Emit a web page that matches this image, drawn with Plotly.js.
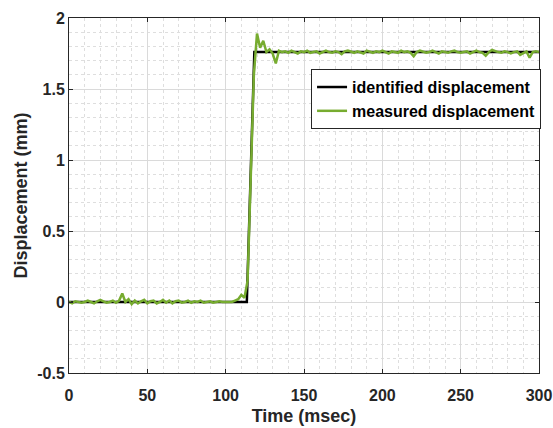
<!DOCTYPE html>
<html>
<head>
<meta charset="utf-8">
<script src="https://cdn.plot.ly/plotly-3.0.1.min.js"></script>
<style>html,body{margin:0;padding:0;background:#fff;}#chart{width:553px;height:428px;}</style>
</head>
<body>
<div id="chart"></div>
<script>
// Identified displacement (corner points of the identified step)
const identifiedTime = [0, 113.5, 118.3, 300];
const identifiedDisp = [0, 0, 1.76, 1.76];

// Measured displacement, sampled every 2 ms starting at 0 ms
const measuredStart = 0;
const measuredStep = 2;
const measuredDisp = [
  0.00, -0.01, 0.005, 0.00, -0.005, 0.00, 0.01, 0.00, -0.01, 0.005,
  0.015, 0.005, -0.005, 0.00, 0.01, -0.005, 0.01, 0.06, 0.00, 0.02,
  -0.015, 0.01, -0.01, 0.005, 0.015, -0.01, 0.005, 0.01, -0.01, 0.00,
  0.015, -0.005, 0.01, -0.01, 0.005, 0.01, -0.005, 0.00, 0.01, -0.005,
  0.005, 0.00, 0.01, -0.005, 0.00, 0.005, -0.005, 0.00, 0.005, 0.00,
  0.00, 0.005, 0.00, 0.01, 0.02, 0.05, 0.03, 0.15, 0.80, 1.60,
  1.89, 1.79, 1.84, 1.76, 1.78, 1.75, 1.68, 1.77, 1.76, 1.765,
  1.755, 1.77, 1.76, 1.75, 1.765, 1.76, 1.77, 1.755, 1.76, 1.765,
  1.75, 1.76, 1.77, 1.76, 1.755, 1.765, 1.76, 1.745, 1.765, 1.77,
  1.76, 1.755, 1.765, 1.76, 1.75, 1.77, 1.76, 1.755, 1.765, 1.76,
  1.77, 1.76, 1.75, 1.765, 1.76, 1.755, 1.77, 1.76, 1.765, 1.755,
  1.73, 1.76, 1.77, 1.765, 1.755, 1.76, 1.77, 1.76, 1.75, 1.765,
  1.76, 1.755, 1.765, 1.77, 1.76, 1.755, 1.76, 1.765, 1.75, 1.76,
  1.77, 1.76, 1.755, 1.735, 1.76, 1.775, 1.765, 1.76, 1.755, 1.765,
  1.76, 1.75, 1.76, 1.765, 1.74, 1.755, 1.765, 1.72, 1.76, 1.765,
  1.76
];

const xTicks = [0, 50, 100, 150, 200, 250, 300];
const xTickText = ['0', '50', '100', '150', '200', '250', '300'];
const yTicks = [-0.5, 0, 0.5, 1, 1.5, 2];
const yTickText = ['-0.5', '0', '0.5', '1', '1.5', '2'];

const fontFam = '"Liberation Sans", Arial, sans-serif';

const traces = [
  {
    x: identifiedTime, y: identifiedDisp, mode: 'lines', type: 'scatter',
    name: 'identified displacement',
    line: {color: '#000000', width: 2.5}
  },
  {
    x0: measuredStart, dx: measuredStep, y: measuredDisp, mode: 'lines', type: 'scatter',
    name: 'measured displacement',
    line: {color: '#77AC30', width: 2.5}
  }
];

const axisCommon = {
  showline: true, linecolor: '#262626', linewidth: 1, mirror: 'ticks',
  ticks: 'inside', ticklen: 4, tickcolor: '#262626',
  showgrid: true, gridcolor: '#dadada', gridwidth: 1,
  zeroline: false, automargin: false,
  tickfont: {family: fontFam, size: 16, color: '#262626', weight: 'bold'},
  tickmode: 'array'
};

const layout = {
  width: 553, height: 428,
  margin: {l: 69, r: 14, t: 18, b: 55},
  paper_bgcolor: '#ffffff', plot_bgcolor: '#ffffff',
  font: {family: fontFam, color: '#262626'},
  showlegend: true,
  xaxis: Object.assign({}, axisCommon, {
    range: [0, 300], tickvals: xTicks, ticktext: xTickText,
    ticklabelstandoff: 8,
    minor: {dtick: 10, showgrid: true, gridcolor: '#dedede', griddash: 'dot', gridwidth: 1, ticks: ''},
    title: {text: 'Time (msec)', font: {family: fontFam, size: 18, color: '#262626', weight: 'bold'}, standoff: 6}
  }),
  yaxis: Object.assign({}, axisCommon, {
    range: [-0.5, 2], tickvals: yTicks, ticktext: yTickText,
    minor: {dtick: 0.1, showgrid: true, gridcolor: '#dedede', griddash: 'dot', gridwidth: 1, ticks: ''},
    title: {text: 'Displacement (mm)', font: {family: fontFam, size: 18, color: '#262626', weight: 'bold'}, standoff: 4}
  }),
  legend: {
    x: 0.515, y: 0.856, xanchor: 'left', yanchor: 'top',
    bgcolor: '#ffffff', bordercolor: '#262626', borderwidth: 1,
    font: {family: fontFam, size: 16, color: '#000000', weight: 'bold'},
    tracegroupgap: 0, itemwidth: 30
  }
};

Plotly.newPlot('chart', traces, layout, {displayModeBar: false, staticPlot: true});
</script>
</body>
</html>
